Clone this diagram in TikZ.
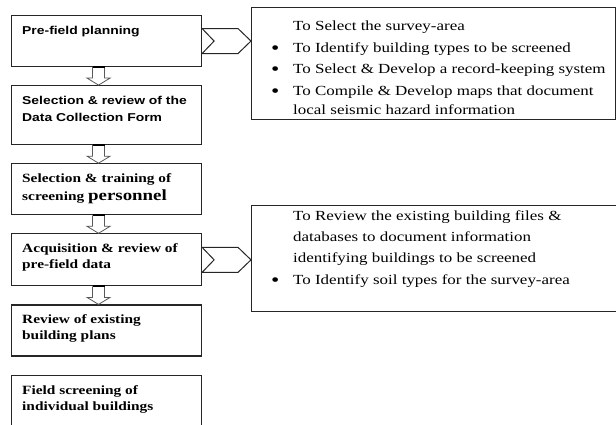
\documentclass[tikz,border=0pt]{standalone}
\usepackage{fontspec}
\setmainfont{Liberation Serif}[FakeStretch=1.22]
\setsansfont{Liberation Sans}[FakeStretch=1.22]
\usepackage{tikz}
\usetikzlibrary{positioning,calc}
\tikzset{
    stepbox/.style={draw=black!85, line width=1.1pt, minimum width=190pt, inner sep=0pt},
    steplabel/.style={anchor=base west, inner sep=0pt},
    sanslabel/.style={steplabel, font=\sffamily\bfseries\fontsize{11.4}{17}\selectfont},
    seriflabel/.style={steplabel, font=\bfseries\fontsize{12.6}{16}\selectfont},
    notebox/.style={draw=black!85, line width=1.1pt, anchor=north west, inner sep=0pt},
    notetext/.style={anchor=base west, inner sep=0pt, font=\fontsize{13.9}{21.5}\selectfont},
    hollowarrow/.style={draw=black!65, line width=0.8pt, fill=white, line join=miter},
    chevron/.style={draw=black!85, line width=1pt, fill=white, line join=miter}
}
% lines stacked under the first baseline
\newcommand{\stack}[1]{\begin{tabular}[t]{@{}l@{}}#1\end{tabular}}
\newcommand{\bul}{\makebox[22pt][l]{\raisebox{-1.6pt}{\scalebox{1.4}{\textbullet}}}}
\newcommand{\nob}{\hspace*{22pt}}
% hollow arrow from one step down to the next
\newcommand{\flowdown}[2]{%
    \draw[hollowarrow] ($(#1.south)+(-14pt,0)$) -- ($(#2.north)+(-14pt,7pt)$)
        -- ($(#2.north)+(-19.5pt,7pt)$) -- ($(#2.north)+(-8pt,0)$)
        -- ($(#2.north)+(3.5pt,7pt)$) -- ($(#2.north)+(-2pt,7pt)$)
        -- ($(#1.south)+(-2pt,0)$);
    \draw[line width=2pt] ($(#1.south)+(-14pt,0)$) -- ($(#1.south)+(-2pt,0)$);
}
% notched arrow from a step to its note
\newcommand{\sidearrow}[2]{%
    \coordinate (#1tip) at (#2.west |- #1.east);
    \draw[chevron] ($(#1.east)+(0,12.5pt)$) -- ($(#1tip)+(-13pt,12.5pt)$) -- (#1tip)
        -- ($(#1tip)+(-13pt,-12.5pt)$) -- ($(#1.east)+(0,-12.5pt)$)
        -- ($(#1.east)+(12pt,0)$) -- cycle;
}

\begin{document}
\begin{tikzpicture}[x=1pt, y=-1pt, node distance=18pt]
    \useasboundingbox (0,0) rectangle (616,425);
    \clip (0,0) rectangle (616,425);

    % steps
    \node[stepbox, minimum height=51pt, anchor=north west] (plan) at (11,15) {};
    \node[stepbox, minimum height=59pt, below=of plan] (form) {};
    \node[stepbox, minimum height=51pt, below=of form] (staff) {};
    \node[stepbox, minimum height=52pt, below=of staff] (data) {};
    \node[stepbox, minimum height=51pt, below=of data] (plans) {};
    \node[stepbox, minimum height=70pt, below=of plans] (field) {};

    \node[sanslabel] (plantext) at ([shift={(11pt,-19.5pt)}]plan.north west) {Pre-field planning};
    \node[sanslabel] (formtext) at ([shift={(11pt,-19.5pt)}]form.north west) {\stack{Selection \& review of the\\Data Collection Form}};
    \node[seriflabel] (stafftext) at ([shift={(11pt,-19.5pt)}]staff.north west) {\stack{Selection \& training of\\[2pt]screening {\fontsize{15.5}{16}\selectfont personnel}}};
    \node[seriflabel] (datatext) at ([shift={(11pt,-19.5pt)}]data.north west) {\stack{Acquisition \& review of\\pre-field data}};
    \node[seriflabel] (planstext) at ([shift={(11pt,-19.5pt)}]plans.north west) {\stack{Review of existing\\building plans}};
    \node[seriflabel] (fieldtext) at ([shift={(11pt,-19.5pt)}]field.north west) {\stack{Field screening of\\individual buildings}};

    % notes
    \node[notebox, minimum width=364pt, minimum height=112pt] (plannote) at (251,7) {};
    \node[notebox, minimum width=372pt, minimum height=106pt] (datanote) at (251,205) {};

    \node[notetext] (plannotetext) at (271,31) {\stack{\nob To Select the survey-area\\
        \bul To Identify building types to be screened\\
        \bul To Select \& Develop a record-keeping system\\
        \bul To Compile \& Develop maps that document\\[-2.5pt]
        \nob local seismic hazard information}};
    \node[notetext] (datanotetext) at (271,220) {\stack{\nob To Review the existing building files \&\\
        \nob databases to document information\\
        \nob identifying buildings to be screened\\
        \bul To Identify soil types for the survey-area}};

    % connectors
    \flowdown{plan}{form}
    \flowdown{form}{staff}
    \flowdown{staff}{data}
    \flowdown{data}{plans}
    \sidearrow{plan}{plannote}
    \sidearrow{data}{datanote}
\end{tikzpicture}
\end{document}
